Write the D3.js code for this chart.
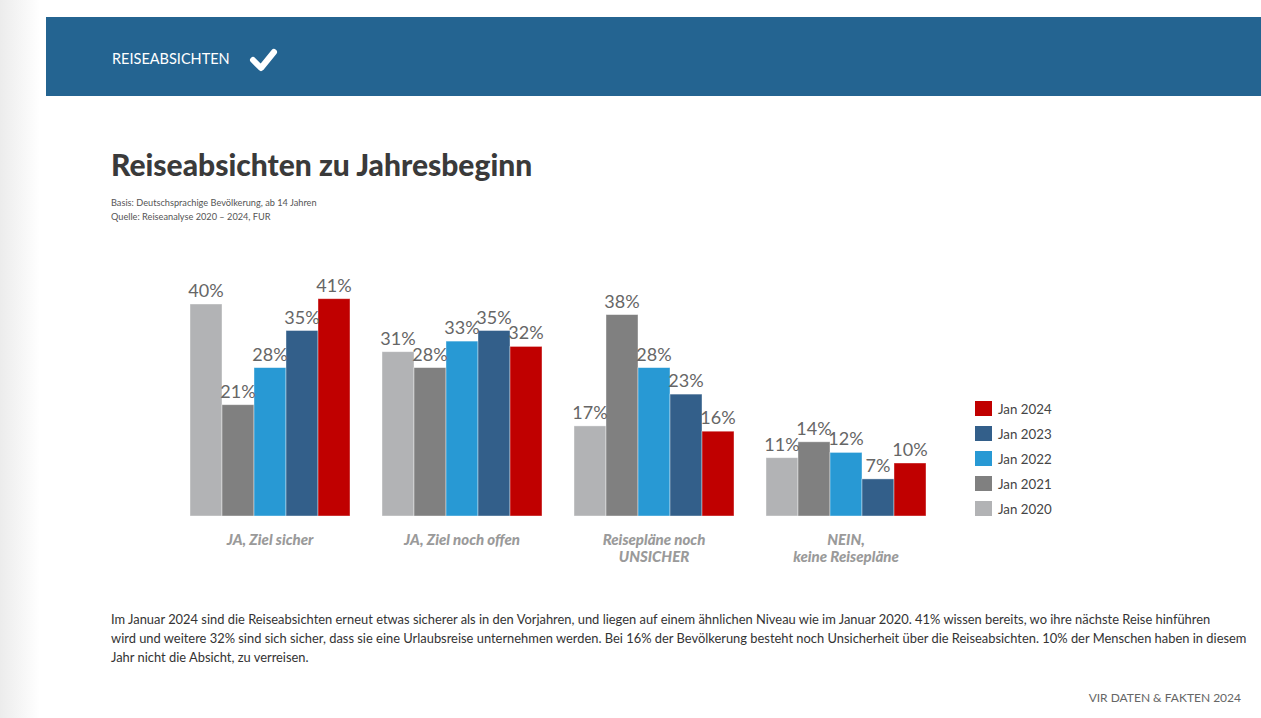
<!DOCTYPE html>
<html lang="de">
    <head>
        <meta charset="utf-8">
        <title>Reiseabsichten zu Jahresbeginn</title>
        <script type="text/javascript" src="https://cdn.jsdelivr.net/npm/d3@7"></script>
        <style>
            body { margin: 0; background: #fff; }
            svg { display: block; }
        </style>
    </head>
    <body>
        <script type="text/javascript">

            //Width and height
            var w = 1261;
            var h = 718;

            //Data
            var categories = ["JA, Ziel sicher", "JA, Ziel noch offen", "Reisepläne noch\nUNSICHER", "NEIN,\nkeine Reisepläne"];
            var years = ["Jan 2020", "Jan 2021", "Jan 2022", "Jan 2023", "Jan 2024"];
            var values2020 = [40, 31, 17, 11];
            var values2021 = [21, 28, 38, 14];
            var values2022 = [28, 33, 28, 12];
            var values2023 = [35, 35, 23, 7];
            var values2024 = [41, 32, 16, 10];
            var colors = ["#b2b3b5", "#808080", "#2899d4", "#335f8a", "#c00000"];

            var seriesValues = [values2020, values2021, values2022, values2023, values2024];

            var svg = d3.select("body")
                        .append("svg")
                        .attr("width", w)
                        .attr("height", h);

            //Faint page shadow on the left
            var defs = svg.append("defs");
            var grad = defs.append("linearGradient").attr("id", "shade");
            grad.append("stop").attr("offset", "0%").attr("stop-color", "#ececec");
            grad.append("stop").attr("offset", "100%").attr("stop-color", "#fff");
            svg.append("rect").attr("x", 0).attr("y", 0).attr("width", 40).attr("height", h).attr("fill", "url(#shade)");

            //Header band
            svg.append("rect")
                .attr("x", 46).attr("y", 17)
                .attr("width", w - 46).attr("height", 79)
                .attr("fill", "#246491");

            svg.append("text")
                .attr("x", 112).attr("y", 64)
                .attr("font-family", "Lato, sans-serif")
                .attr("font-size", "14.5px")
                .attr("fill", "#fff")
                .text("REISEABSICHTEN");

            svg.append("path")
                .attr("d", "M253,60 L261,68 L274,52")
                .attr("fill", "none")
                .attr("stroke", "#fff")
                .attr("stroke-width", 6)
                .attr("stroke-linecap", "round")
                .attr("stroke-linejoin", "round");

            //Title and notes
            svg.append("text")
                .attr("x", 111).attr("y", 176)
                .attr("font-family", "Lato, sans-serif")
                .attr("font-weight", 900)
                .attr("font-size", "30px")
                .attr("fill", "#3a3a3a")
                .text("Reiseabsichten zu Jahresbeginn");

            svg.append("text")
                .attr("x", 111).attr("y", 206)
                .attr("font-family", "Lato, sans-serif")
                .attr("font-size", "9.2px")
                .attr("fill", "#555")
                .text("Basis: Deutschsprachige Bevölkerung, ab 14 Jahren");

            svg.append("text")
                .attr("x", 111).attr("y", 220)
                .attr("font-family", "Lato, sans-serif")
                .attr("font-size", "9.2px")
                .attr("fill", "#555")
                .text("Quelle: Reiseanalyse 2020 – 2024, FUR");

            //Scales
            var xScale = d3.scaleBand()
                        .domain(categories)
                        .range([174, 942])
                        .paddingInner(0)
                        .paddingOuter(0);

            var barScale = d3.scaleBand()
                        .domain(years)
                        .range([16, 176]);

            var yScale = d3.scaleLinear()
                        .domain([0, 40])
                        .range([516, 304]);

            //Bars
            var groups = svg.selectAll("g.group")
                .data(categories)
                .enter()
                .append("g")
                .attr("class", "group")
                .attr("transform", function(d) { return "translate(" + xScale(d) + ",0)"; });

            groups.selectAll("rect")
                .data(function(d, i) {
                    return years.map(function(y, j) { return { year: y, value: seriesValues[j][i], color: colors[j] }; });
                })
                .enter()
                .append("rect")
                .attr("x", function(d) { return barScale(d.year); })
                .attr("y", function(d) { return yScale(d.value); })
                .attr("width", barScale.bandwidth())
                .attr("height", function(d) { return yScale(0) - yScale(d.value); })
                .attr("fill", function(d) { return d.color; })
                .attr("stroke", "#fff")
                .attr("stroke-opacity", 0.5)
                .attr("stroke-width", 0.8);

            groups.selectAll("text.val")
                .data(function(d, i) {
                    return years.map(function(y, j) { return { year: y, value: seriesValues[j][i] }; });
                })
                .enter()
                .append("text")
                .attr("class", "val")
                .attr("x", function(d) { return barScale(d.year) + barScale.bandwidth() / 2; })
                .attr("y", function(d) { return yScale(d.value) - 7; })
                .attr("text-anchor", "middle")
                .attr("font-family", "Lato, sans-serif")
                .attr("font-size", "18px")
                .attr("fill", "#666")
                .text(function(d) { return d.value + "%"; });

            //Category labels
            groups.append("text")
                .attr("x", 96)
                .attr("y", 545)
                .attr("text-anchor", "middle")
                .attr("font-family", "Lato, sans-serif")
                .attr("font-weight", 900)
                .attr("font-style", "italic")
                .attr("font-size", "15px")
                .attr("fill", "#9a9a9a")
                .selectAll("tspan")
                .data(function(d) { return d.split("\n"); })
                .enter()
                .append("tspan")
                .attr("x", 96)
                .attr("dy", function(d, i) { return i === 0 ? 0 : 17; })
                .text(function(d) { return d; });

            //Legend (newest on top)
            var legend = svg.selectAll("g.legend")
                .data(years.slice().reverse())
                .enter()
                .append("g")
                .attr("class", "legend")
                .attr("transform", function(d, i) { return "translate(975," + (401 + i * 25) + ")"; });

            legend.append("rect")
                .attr("width", 17)
                .attr("height", 15)
                .attr("fill", function(d) { return colors[years.indexOf(d)]; });

            legend.append("text")
                .attr("x", 23)
                .attr("y", 13)
                .attr("font-family", "Lato, sans-serif")
                .attr("font-size", "13.3px")
                .attr("fill", "#444")
                .text(function(d) { return d; });

            //Body text
            var bodyLines = [
                "Im Januar 2024 sind die Reiseabsichten erneut etwas sicherer als in den Vorjahren, und liegen auf einem ähnlichen Niveau wie im Januar 2020. 41% wissen bereits, wo ihre nächste Reise hinführen",
                "wird und weitere 32% sind sich sicher, dass sie eine Urlaubsreise unternehmen werden. Bei 16% der Bevölkerung besteht noch Unsicherheit über die Reiseabsichten. 10% der Menschen haben in diesem",
                "Jahr nicht die Absicht, zu verreisen."
            ];

            svg.selectAll("text.body")
                .data(bodyLines)
                .enter()
                .append("text")
                .attr("class", "body")
                .attr("x", 111)
                .attr("y", function(d, i) { return 624 + i * 19; })
                .attr("font-family", "Lato, sans-serif")
                .attr("font-size", "12.9px")
                .attr("fill", "#333")
                .text(function(d) { return d; });

            svg.append("text")
                .attr("x", 1241).attr("y", 702)
                .attr("text-anchor", "end")
                .attr("font-family", "Lato, sans-serif")
                .attr("font-size", "12px")
                .attr("fill", "#666")
                .text("VIR DATEN & FAKTEN 2024");

        </script>
    </body>
</html>
